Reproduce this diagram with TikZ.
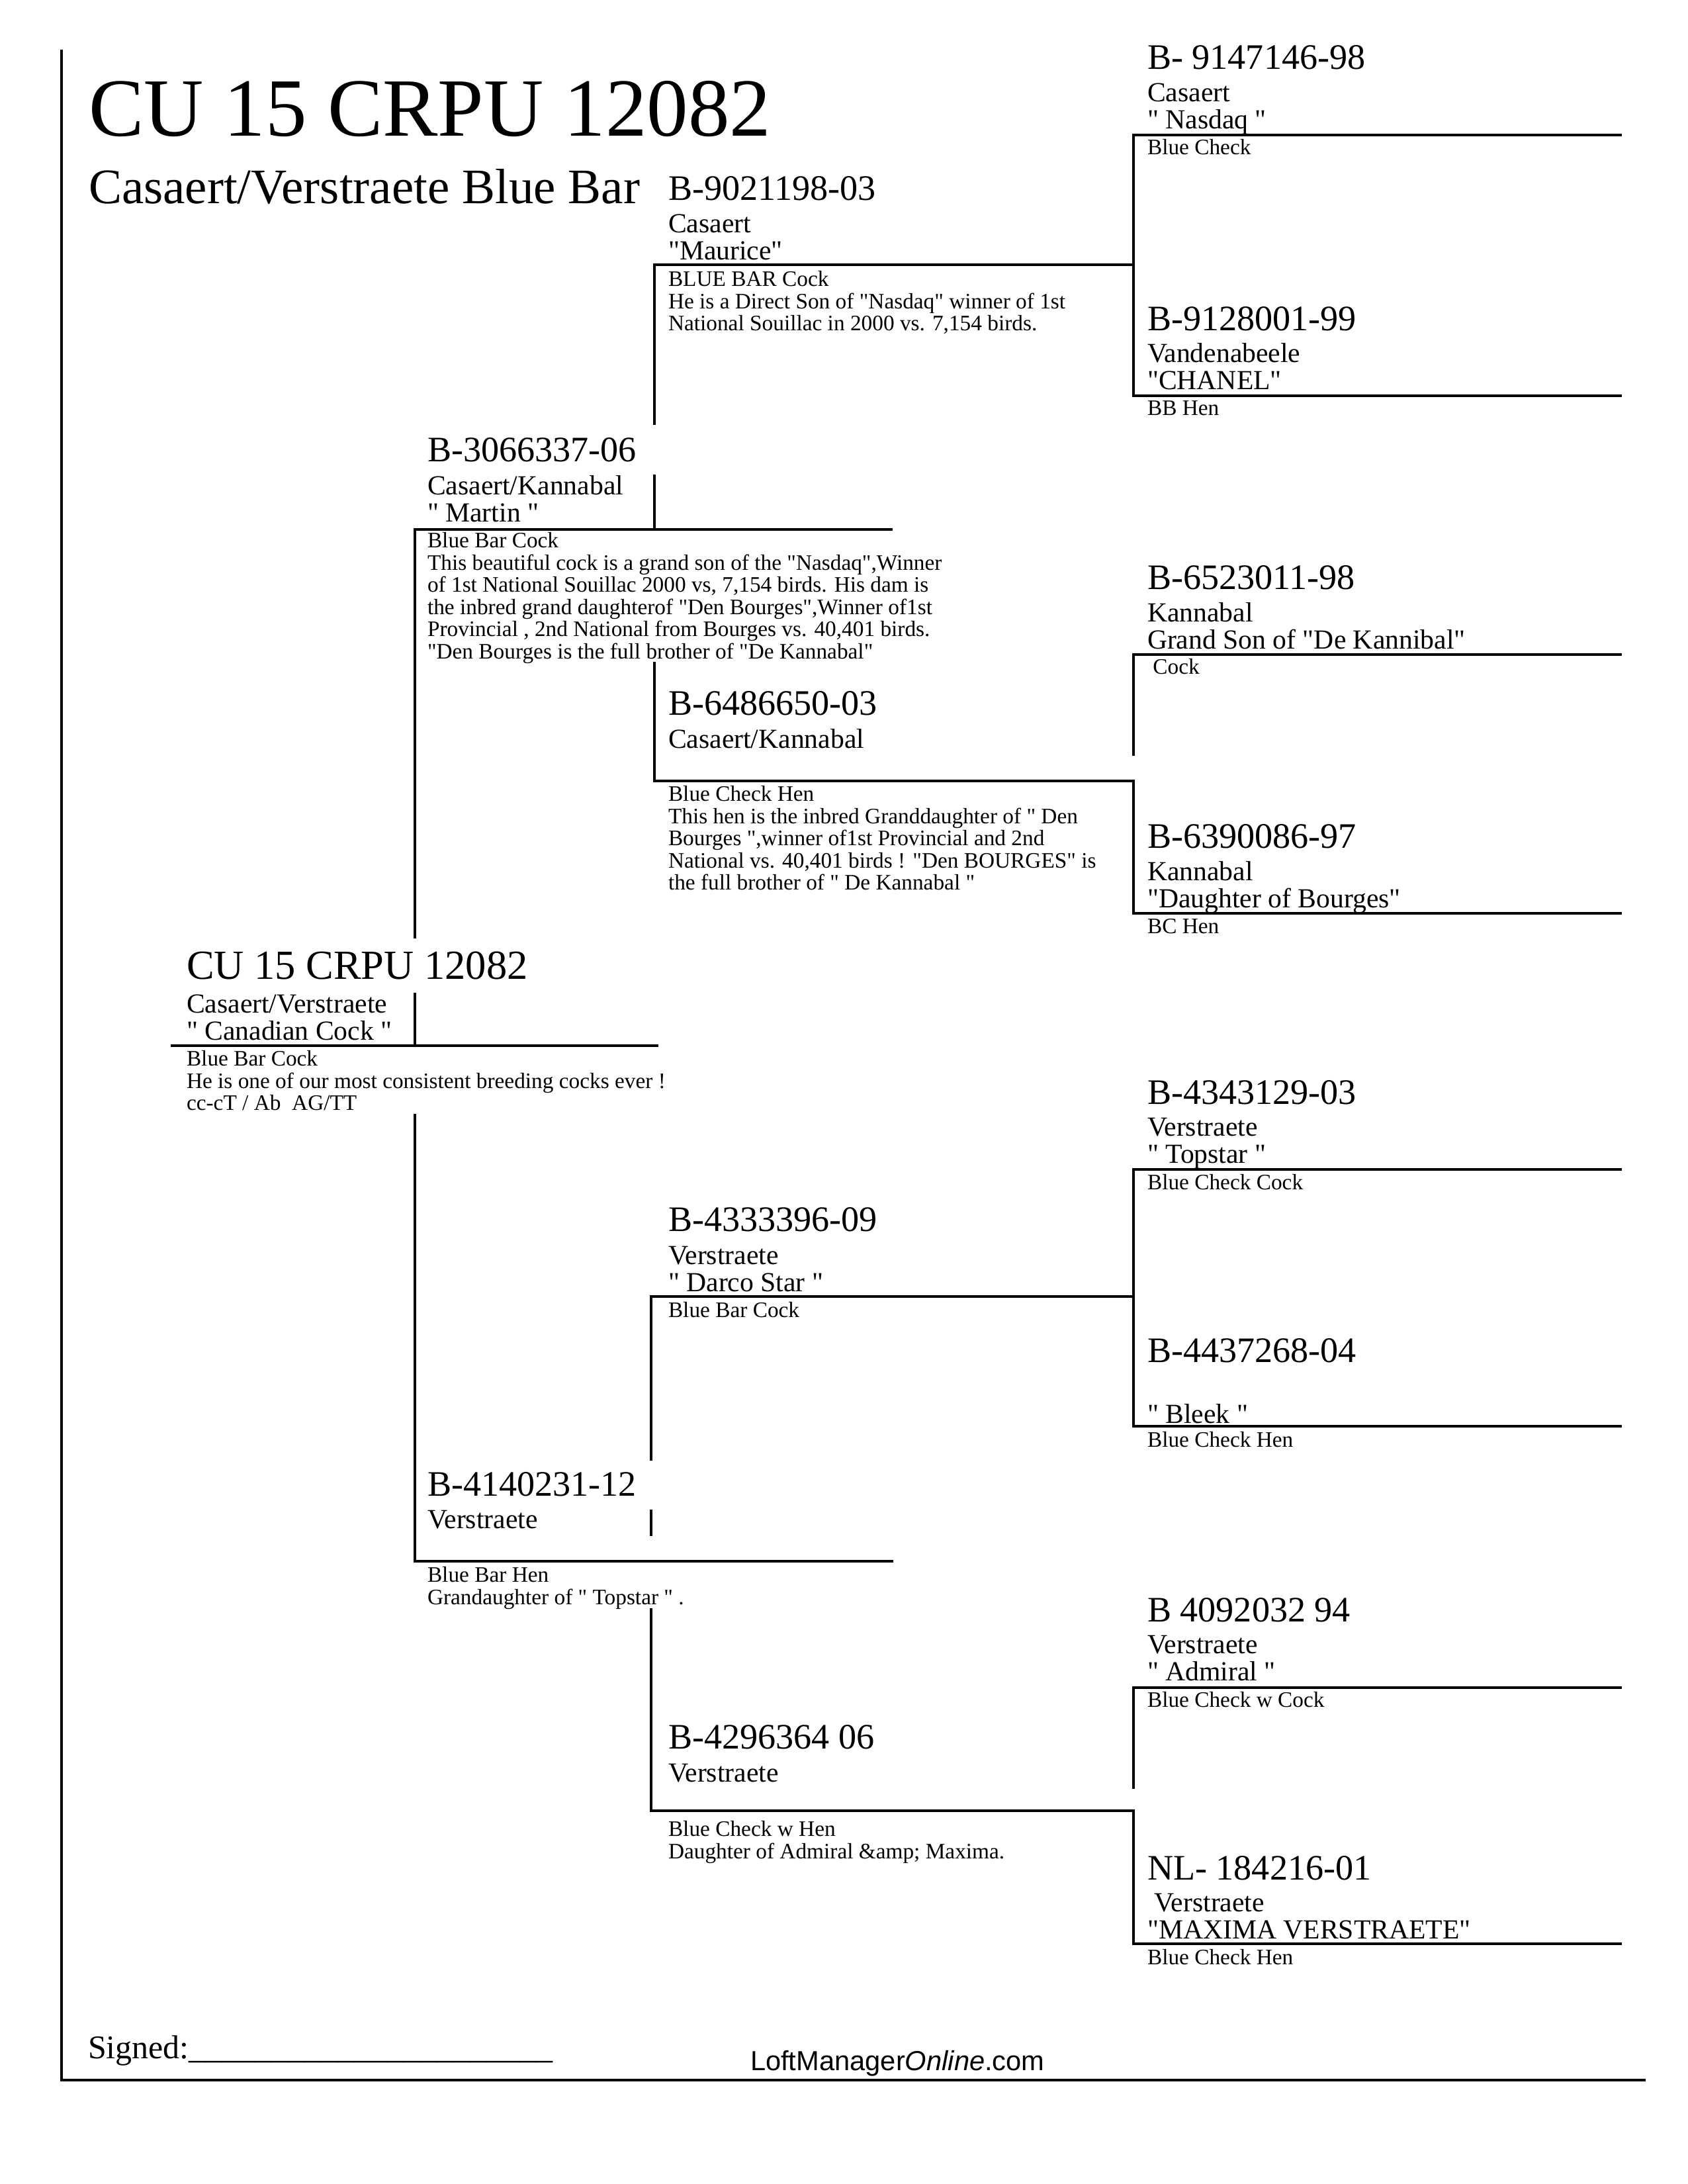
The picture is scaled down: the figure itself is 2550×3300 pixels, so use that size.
\documentclass[tikz,border=0pt]{standalone}
\usepackage{fontspec}
\setmainfont{Liberation Serif}[Ligatures=TeXOff]
\newfontfamily\arialfont{Liberation Sans}[Ligatures=TeXOff]
\newcommand\ml[1]{\vtop{\lineskiplimit=-100pt\lineskip=0pt\halign{##\hfil\cr#1\crcr}}}
\begin{document}
\begin{tikzpicture}[x=0.24pt,y=-0.24pt,
  txt/.style={anchor=base west, inner sep=0pt, outer sep=0pt},
  ringno/.style={txt, font=\fontsize{13}{13}\selectfont},
  nm/.style={txt, yshift=-0.7pt, font=\fontsize{10}{9.84}\selectfont},
  sm/.style={txt, yshift=-0.7pt, font=\fontsize{8}{8.04}\selectfont},
  rule/.style={line width=0.9pt, line join=miter},
  border/.style={line width=1.1pt, line join=miter}]
\useasboundingbox (0,0) rectangle (2550,3300);

% frame
\draw[border] (93,75) -- (93,3143) -- (2487,3143);

% title
\node[txt, font=\fontsize{30}{30}\selectfont] (title) at (134,205) {CU 15 CRPU 12082};
\node[txt, font=\fontsize{18}{18}\selectfont] (subtitle) at (134,307) {Casaert/Verstraete Blue Bar};

% ---------- rules ----------
% level 3 brackets
\draw[rule] (2451,204) -- (1713,204) -- (1713,598) -- (2451,598);
\draw[rule] (2451,989) -- (1713,989) -- (1713,1142);
\draw[rule] (2451,1767) -- (1713,1767) -- (1713,2155) -- (2451,2155);
\draw[rule] (2451,2550) -- (1713,2550) -- (1713,2703);
% level 2
\draw[rule] (989,642) -- (989,400) -- (1713,400);
\draw[rule] (989,717) -- (989,800);
\draw[rule] (989,1000) -- (989,1180) -- (1713,1180) -- (1713,1380) -- (2451,1380);
\draw[rule] (984,2207) -- (984,1959) -- (1713,1959);
\draw[rule] (984,2281) -- (984,2321);
\draw[rule] (984,2430) -- (984,2736) -- (1713,2736) -- (1713,2937) -- (2451,2937);
% level 1
\draw[rule] (627,1418) -- (627,800) -- (1349,800);
\draw[rule] (627,1500) -- (627,1580);
\draw[rule] (627,1683) -- (627,2359) -- (1350,2359);
% subject
\draw[rule] (258,1580) -- (995,1580);

% ---------- subject ----------
\node[txt, font=\fontsize{15}{15}\selectfont] (s-ring) at (282,1479) {CU 15 CRPU 12082};
\node[nm] (s-name) at (282,1528) {\ml{Casaert/Verstraete\cr " Canadian Cock "}};
\node[sm] (s-note) at (282,1608) {\ml{Blue Bar Cock\cr He is one of our most consistent breeding cocks ever !\cr cc-cT / Ab\ \ AG/TT}};

% ---------- level 1 ----------
\node[ringno] (l1-ring) at (646,697) {B-3066337-06};
\node[nm] (l1-name) at (646,745) {\ml{Casaert/Kannabal\cr " Martin "}};
\node[sm] (l1-note) at (646,825) {\ml{Blue Bar Cock\cr
This beautiful cock is a grand son of the "Nasdaq",Winner\cr
of 1st National Souillac 2000 vs, 7,154 birds. His dam is\cr
the inbred grand daughterof "Den Bourges",Winner of1st\cr
Provincial , 2nd National from Bourges vs. 40,401 birds.\cr
"Den Bourges is the full brother of "De Kannabal"}};

\node[ringno] (l2-ring) at (646,2260) {B-4140231-12};
\node[nm] (l2-name) at (646,2307) {Verstraete};
\node[sm] (l2-note) at (646,2388) {\ml{Blue Bar Hen\cr Grandaughter of " Topstar " .}};

% ---------- level 2 ----------
\node[ringno] (m1-ring) at (1010,302) {B-9021198-03};
\node[nm] (m1-name) at (1010,349) {\ml{Casaert\cr "Maurice"}};
\node[sm] (m1-note) at (1010,430) {\ml{BLUE BAR Cock\cr
He is a Direct Son of "Nasdaq" winner of 1st\cr
National Souillac in 2000 vs. 7,154 birds.}};

\node[ringno] (m2-ring) at (1010,1080) {B-6486650-03};
\node[nm] (m2-name) at (1010,1128) {Casaert/Kannabal};
\node[sm] (m2-note) at (1010,1208) {\ml{Blue Check Hen\cr
This hen is the inbred Granddaughter of " Den\cr
Bourges ",winner of1st Provincial and 2nd\cr
National vs. 40,401 birds ! "Den BOURGES" is\cr
the full brother of " De Kannabal "}};

\node[ringno] (m3-ring) at (1010,1860) {B-4333396-09};
\node[nm] (m3-name) at (1010,1908) {\ml{Verstraete\cr " Darco Star "}};
\node[sm] (m3-note) at (1010,1988) {Blue Bar Cock};

\node[ringno] (m4-ring) at (1010,2642) {B-4296364 06};
\node[nm] (m4-name) at (1010,2690) {Verstraete};
\node[sm] (m4-note) at (1010,2772) {\ml{Blue Check w Hen\cr Daughter of Admiral \&amp; Maxima.}};

% ---------- level 3 ----------
\node[ringno] (n1-ring) at (1734,104) {B- 9147146-98};
\node[nm] (n1-name) at (1734,151) {\ml{Casaert\cr " Nasdaq "}};
\node[sm] (n1-note) at (1734,231) {Blue Check};

\node[ringno] (n2-ring) at (1734,499) {B-9128001-99};
\node[nm] (n2-name) at (1734,545) {\ml{Vandenabeele\cr "CHANEL"}};
\node[sm] (n2-note) at (1734,625) {BB Hen};

\node[ringno] (n3-ring) at (1734,890) {B-6523011-98};
\node[nm] (n3-name) at (1734,937) {\ml{Kannabal\cr Grand Son of "De Kannibal"}};
\node[sm] (n3-note) at (1734,1016) {\ Cock};

\node[ringno] (n4-ring) at (1734,1281) {B-6390086-97};
\node[nm] (n4-name) at (1734,1328) {\ml{Kannabal\cr "Daughter of Bourges"}};
\node[sm] (n4-note) at (1734,1408) {BC Hen};

\node[ringno] (n5-ring) at (1734,1668) {B-4343129-03};
\node[nm] (n5-name) at (1734,1714) {\ml{Verstraete\cr " Topstar "}};
\node[sm] (n5-note) at (1734,1795) {Blue Check Cock};

\node[ringno] (n6-ring) at (1734,2058) {B-4437268-04};
\node[nm] (n6-name) at (1734,2148) {" Bleek "};
\node[sm] (n6-note) at (1734,2184) {Blue Check Hen};

\node[ringno] (n7-ring) at (1734,2450) {B 4092032 94};
\node[nm] (n7-name) at (1734,2496) {\ml{Verstraete\cr " Admiral "}};
\node[sm] (n7-note) at (1734,2577) {Blue Check w Cock};

\node[ringno] (n8-ring) at (1734,2840) {NL- 184216-01};
\node[nm] (n8-name) at (1734,2886) {\ml{\ Verstraete\cr "MAXIMA VERSTRAETE"}};
\node[sm] (n8-note) at (1734,2966) {Blue Check Hen};

% ---------- footer ----------
\node[txt, font=\fontsize{12}{12}\selectfont] (signed) at (133,3110) {Signed:\_\_\_\_\_\_\_\_\_\_\_\_\_\_\_\_\_\_\_\_\_\_};
\node[txt, font=\arialfont\fontsize{10}{10}\selectfont] (footer) at (1134,3128) {LoftManager\textit{Online}.com};
\end{tikzpicture}
\end{document}
